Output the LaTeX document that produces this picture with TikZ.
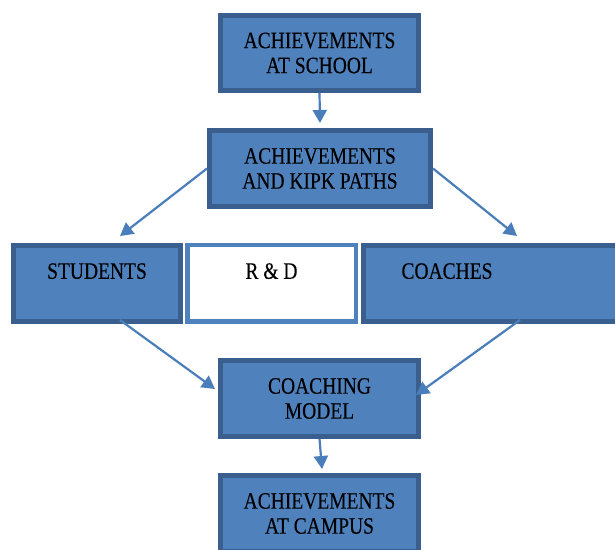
\documentclass[tikz,border=0pt]{standalone}
\usepackage{fontspec}
\setmainfont{Liberation Serif}[FakeStretch=0.83,FakeBold=0.25]
\usetikzlibrary{calc,arrows.meta}
\definecolor{boxfill}{HTML}{4F81BD}
\definecolor{boxedge}{HTML}{3A5F8E}
\definecolor{arrowcol}{HTML}{4A7EBB}
\tikzset{
  blkbox/.style={draw=boxedge, fill=boxfill, line width=5pt, inner sep=0pt,
    align=center, font=\fontsize{23.5}{25}\selectfont, text=black},
  rdbox/.style={draw=boxfill, fill=white, line width=4.5pt, inner sep=0pt,
    align=center, font=\fontsize{23.5}{25}\selectfont, text=black},
  lbl/.style={inner sep=0pt, align=center, font=\fontsize{23.5}{25}\selectfont, text=black},
  conn/.style={draw=arrowcol, line width=2.2pt, -{Triangle[length=13pt,width=14pt]}}
}
\begin{document}
\begin{tikzpicture}[x=1pt,y=1pt]
\useasboundingbox (0,0) rectangle (615,549);
\clip (0,0) rectangle (615,549);
% boxes (size = outer size minus line width)
\node[blkbox, minimum width=198pt, minimum height=75pt] (b1) at (319.5,496) {ACHIEVEMENTS\\AT SCHOOL};
\node[blkbox, minimum width=221pt, minimum height=76pt] (b2) at (320,380.5) {ACHIEVEMENTS\\AND KIPK PATHS};
\node[blkbox, minimum width=167pt, minimum height=76pt] (stu) at (97,265.5) {STUDENTS\\\mbox{}};
\node[rdbox, minimum width=168.5pt, minimum height=76.5pt] (rd) at (271.5,265.5) {R \& D\\\mbox{}};
\node[blkbox, minimum width=275pt, minimum height=76pt] (coa) at (501,265.5) {};
\node[lbl] (coatext) at (447,265.5) {COACHES\\\mbox{}};
\node[blkbox, minimum width=198pt, minimum height=76pt] (cm) at (319.5,150.5) {COACHING\\MODEL};
\node[blkbox, minimum width=198pt, minimum height=76pt] (camp) at (319.5,35.5) {ACHIEVEMENTS\\AT CAMPUS};
% connectors
\draw[conn] (b1.south) -- ($(b2.north)+(0,5)$);
\draw[conn] (b2.west) -- ($(stu.north)+(23,7)$);
\draw[conn] (b2.east) -- ($(coa.north)+(16,7)$);
\draw[conn] ($(stu.south)+(23,4)$) -- ($(cm.west)+(-3,9.5)$);
\draw[conn] ($(coa.south)+(19,4)$) -- ($(cm.east)+(-5,3.5)$);
\draw[conn] (cm.south) -- ($(camp.north)+(2.5,4)$);
\end{tikzpicture}
\end{document}
